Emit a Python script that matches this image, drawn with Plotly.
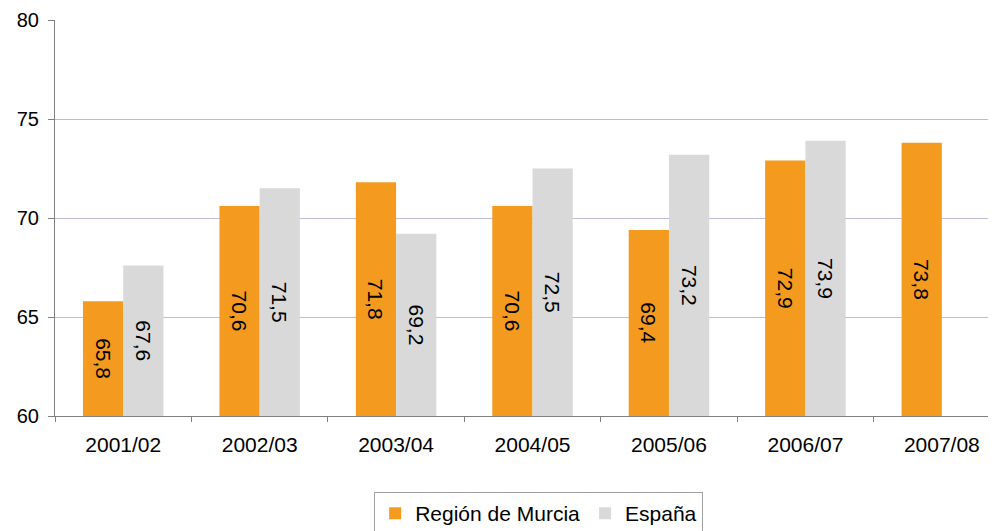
import plotly.graph_objects as go

categories = ["2001/02", "2002/03", "2003/04", "2004/05", "2005/06", "2006/07", "2007/08"]
murcia = [65.8, 70.6, 71.8, 70.6, 69.4, 72.9, 73.8]
espana = [67.6, 71.5, 69.2, 72.5, 73.2, 73.9, None]
y_ticks = [60, 65, 70, 75, 80]
y_min, y_max = 60, 80

FONT = "Liberation Sans, Arial, sans-serif"


def heights(vals):
    return [None if v is None else v - y_min for v in vals]


def labels(vals):
    return ["" if v is None else f"{v:.1f}".replace(".", ",") for v in vals]


fig = go.Figure()
for name, vals, color in [("Región de Murcia", murcia, "#F39A1F"), ("España", espana, "#D9D9D9")]:
    fig.add_trace(go.Bar(
        x=categories, y=heights(vals), base=y_min, name=name,
        marker=dict(color=color, line=dict(width=0)),
        text=labels(vals), textposition="inside", insidetextanchor="middle",
        textangle=90, textfont=dict(size=21, color="black", family=FONT),
        cliponaxis=False,
    ))

fig.update_layout(
    width=988, height=523,
    margin=dict(l=47, r=0, t=12, b=115),
    paper_bgcolor="white", plot_bgcolor="white",
    barmode="group", bargap=0.41, bargroupgap=0,
    font=dict(family=FONT, size=20, color="black"),
    uniformtext=dict(mode="show", minsize=21),
    xaxis=dict(
        type="category", range=[-0.5, 6.397],
        tickson="boundaries", ticks="outside", ticklen=5, tickcolor="#808080",
        showline=True, linecolor="#808080", linewidth=1,
        showgrid=False, tickfont=dict(size=21), ticklabelstandoff=10,
        automargin=False,
    ),
    yaxis=dict(
        range=[y_min, y_max], tickvals=y_ticks, ticks="outside", ticklen=6, tickcolor="#808080",
        showline=True, linecolor="#808080", linewidth=1,
        showgrid=True, gridcolor="#BCBCD6", gridwidth=1,
        tickfont=dict(size=20), zeroline=False, ticklabelstandoff=5,
        automargin=False,
    ),
    legend=dict(
        orientation="h", x=0.514, xanchor="center",
        yref="container", y=0.0746, yanchor="top",
        bordercolor="#A0A0A0", borderwidth=1, font=dict(size=21),
        traceorder="normal",
    ),
    showlegend=True,
)

fig.write_html("out.html")
